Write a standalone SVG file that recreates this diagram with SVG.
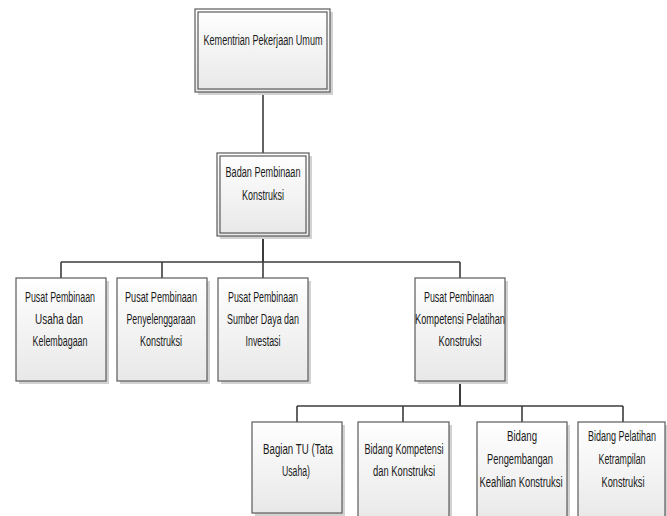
<svg xmlns="http://www.w3.org/2000/svg" width="667" height="516" viewBox="0 0 667 516">
<defs>
<linearGradient id="fillg" x1="0" y1="0" x2="0" y2="1">
<stop offset="0" stop-color="#ffffff"/>
<stop offset="1" stop-color="#e8e8e8"/>
</linearGradient>
<style>
.box{fill:url(#fillg);stroke:#5a5a5a;stroke-width:1.2}
.inner{fill:none;stroke:#5a5a5a;stroke-width:1.2}
.sh{fill:#d2d2d2}
.t{font-family:"Liberation Sans",Arial,sans-serif;font-size:14px;fill:#1a1a1a;text-anchor:middle}
.c{fill:none;stroke:#3c3c3c;stroke-width:1.6}
</style>
</defs>
<rect width="667" height="516" fill="#ffffff"/>
<g id="connectors">
<path class="c" d="M263 92V153"/>
<path class="c" d="M263 236V262" style="stroke-width:2"/>
<path class="c" d="M61 262H460"/>
<path class="c" d="M61 262V278M162 262V278M263 262V278M460 262V278"/>
<path class="c" d="M460 381V406" style="stroke-width:2"/>
<path class="c" d="M297 406H623"/>
<path class="c" d="M297 406V422M403 406V422M522 406V422M623 406V422"/>
</g>
<g id="node-kementrian">
<rect class="sh" x="198" y="12" width="135" height="83"/>
<rect class="box" x="195" y="9" width="135" height="83"/>
<rect class="inner" x="198" y="12" width="129" height="77"/>
<text class="t" x="263" y="45" textLength="119" lengthAdjust="spacingAndGlyphs">Kementrian Pekerjaan Umum</text>
</g>
<g id="node-badan">
<rect class="sh" x="220" y="156" width="92" height="83"/>
<rect class="box" x="217" y="153" width="92" height="83"/>
<rect class="inner" x="220" y="156" width="86" height="77"/>
<text class="t" x="263" y="177" textLength="75" lengthAdjust="spacingAndGlyphs">Badan Pembinaan</text>
<text class="t" x="263" y="200" textLength="42" lengthAdjust="spacingAndGlyphs">Konstruksi</text>
</g>
<g id="node-usaha">
<rect class="sh" x="19" y="281" width="90" height="103"/>
<rect class="box" x="16" y="278" width="90" height="103"/>
<text class="t" x="60" y="302" textLength="70" lengthAdjust="spacingAndGlyphs">Pusat Pembinaan</text>
<text class="t" x="59" y="324" textLength="48" lengthAdjust="spacingAndGlyphs">Usaha dan</text>
<text class="t" x="60" y="346" textLength="55" lengthAdjust="spacingAndGlyphs">Kelembagaan</text>
</g>
<g id="node-penyelenggaraan">
<rect class="sh" x="120" y="281" width="90" height="103"/>
<rect class="box" x="117" y="278" width="90" height="103"/>
<text class="t" x="161" y="302" textLength="72" lengthAdjust="spacingAndGlyphs">Pusat  Pembinaan</text>
<text class="t" x="161" y="324" textLength="69" lengthAdjust="spacingAndGlyphs">Penyelenggaraan</text>
<text class="t" x="161" y="346" textLength="42" lengthAdjust="spacingAndGlyphs">Konstruksi</text>
</g>
<g id="node-sumberdaya">
<rect class="sh" x="221" y="281" width="90" height="103"/>
<rect class="box" x="218" y="278" width="90" height="103"/>
<text class="t" x="263" y="302" textLength="70" lengthAdjust="spacingAndGlyphs">Pusat Pembinaan</text>
<text class="t" x="263" y="324" textLength="72" lengthAdjust="spacingAndGlyphs">Sumber Daya dan</text>
<text class="t" x="263" y="346" textLength="35" lengthAdjust="spacingAndGlyphs">Investasi</text>
</g>
<g id="node-kompetensi">
<rect class="sh" x="418" y="281" width="90" height="103"/>
<rect class="box" x="415" y="278" width="90" height="103"/>
<text class="t" x="459" y="302" textLength="70" lengthAdjust="spacingAndGlyphs">Pusat Pembinaan</text>
<text class="t" x="460" y="324" textLength="90" lengthAdjust="spacingAndGlyphs">Kompetensi Pelatihan</text>
<text class="t" x="460" y="346" textLength="43" lengthAdjust="spacingAndGlyphs">Konstruksi</text>
</g>
<g id="node-bagian-tu">
<rect class="sh" x="255" y="425" width="90" height="91"/>
<rect class="box" x="252" y="422" width="90" height="91"/>
<text class="t" x="298" y="454" textLength="70" lengthAdjust="spacingAndGlyphs">Bagian TU (Tata</text>
<text class="t" x="296" y="476" textLength="28" lengthAdjust="spacingAndGlyphs">Usaha)</text>
</g>
<g id="node-bidang-kompetensi">
<rect class="sh" x="361" y="425" width="91" height="100"/>
<rect class="box" x="358" y="422" width="91" height="100"/>
<text class="t" x="404" y="454" textLength="79" lengthAdjust="spacingAndGlyphs">Bidang Kompetensi</text>
<text class="t" x="404" y="476" textLength="62" lengthAdjust="spacingAndGlyphs">dan Konstruksi</text>
</g>
<g id="node-bidang-pengembangan">
<rect class="sh" x="480" y="425" width="90" height="100"/>
<rect class="box" x="477" y="422" width="90" height="100"/>
<text class="t" x="522" y="441" textLength="30" lengthAdjust="spacingAndGlyphs">Bidang</text>
<text class="t" x="520" y="464" textLength="66" lengthAdjust="spacingAndGlyphs">Pengembangan</text>
<text class="t" x="521" y="487" textLength="83" lengthAdjust="spacingAndGlyphs">Keahlian Konstruksi</text>
</g>
<g id="node-bidang-pelatihan">
<rect class="sh" x="581" y="425" width="86" height="100"/>
<rect class="box" x="578" y="422" width="87" height="100"/>
<text class="t" x="622" y="441" textLength="68" lengthAdjust="spacingAndGlyphs">Bidang Pelatihan</text>
<text class="t" x="622" y="464" textLength="47" lengthAdjust="spacingAndGlyphs">Ketrampilan</text>
<text class="t" x="623" y="487" textLength="43" lengthAdjust="spacingAndGlyphs">Konstruksi</text>
</g>
</svg>
